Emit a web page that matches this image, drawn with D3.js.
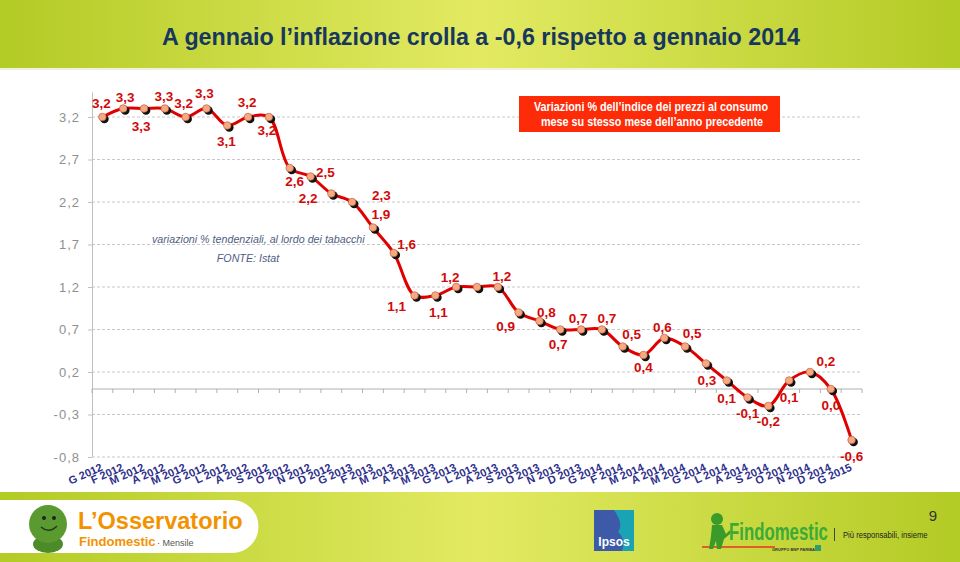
<!DOCTYPE html>
<html><head><meta charset="utf-8">
<script src="https://cdn.jsdelivr.net/npm/d3@7/dist/d3.min.js"></script>
<style>body{margin:0;background:#fff;}svg{display:block;font-family:"Liberation Sans",Arial,sans-serif;}</style>
</head><body>
<svg id="c" width="960" height="562"></svg>
<script>
const categories = [
"G 2012","F 2012","M 2012","A 2012","M 2012","G 2012","L 2012","A 2012","S 2012","O 2012","N 2012","D 2012",
"G 2013","F 2013","M 2013","A 2013","M 2013","G 2013","L 2013","A 2013","S 2013","O 2013","N 2013","D 2013",
"G 2014","F 2014","M 2014","A 2014","M 2014","G 2014","L 2014","A 2014","S 2014","O 2014","N 2014","D 2014",
"G 2015"];
const inflation = [3.2,3.3,3.3,3.3,3.2,3.3,3.1,3.2,3.2,2.6,2.5,2.3,
2.2,1.9,1.6,1.1,1.1,1.2,1.2,1.2,0.9,0.8,0.7,0.7,
0.7,0.5,0.4,0.6,0.5,0.3,0.1,-0.1,-0.2,0.1,0.2,0.0,-0.6];
const yTicks = [3.2,2.7,2.2,1.7,1.2,0.7,0.2,-0.3,-0.8];
// label placement (style): [dx, dy] relative to point, null = no label
const labelOffsets = [[-1,-14],[2,-12],[-3,17],[-1,-13],[-2,-14],[-2,-16],[-1,15],[-1,-15],[-2,13],[5,13],[15,-5],[50,1],
[-44,-4],[8,-14],[13,-9],[-18,10],[3,16],[-6,-10],null,[4,-11],[-13,13],[7,-9],[-2,14],[-3,-12],
[5,-12],[9,-13],[0,12],[-2,-11],[7,-14],[1,16],[0,17],[0,15],[0,15],[0,16],[16,-11],[0,16],[0,16]];

const svg = d3.select("#c");
const defs = svg.append("defs");
const hg = defs.append("linearGradient").attr("id","band").attr("x1","0").attr("x2","1");
hg.append("stop").attr("offset","0").attr("stop-color","#b3cb25");
hg.append("stop").attr("offset","0.5").attr("stop-color","#e3ea62");
hg.append("stop").attr("offset","1").attr("stop-color","#b3cb25");

// header band
svg.append("rect").attr("x",0).attr("y",0).attr("width",960).attr("height",68).attr("fill","url(#band)");
svg.append("rect").attr("x",0).attr("y",68).attr("width",960).attr("height",2).attr("fill","#eef0e0");
svg.append("text").attr("x",481).attr("y",45).attr("text-anchor","middle")
  .attr("font-size",23).attr("font-weight","bold").attr("fill","#17375e").attr("textLength",638).attr("lengthAdjust","spacingAndGlyphs")
  .text("A gennaio l\u2019inflazione crolla a -0,6 rispetto a gennaio 2014");

const fmt = v => d3.format(".1f")(v).replace(".",",").replace("\u2212","-");

const x = d3.scaleBand().domain(d3.range(categories.length)).range([92,862]);
const y = d3.scaleLinear().domain([-0.8,3.2]).range([457,117]);
const cx = i => x(i) + x.bandwidth()/2;

// gridlines
svg.append("g").selectAll("line").data(yTicks).join("line")
  .attr("x1",92).attr("x2",862).attr("y1",d=>y(d)).attr("y2",d=>y(d))
  .attr("stroke","#c8c8c8").attr("stroke-dasharray","3,2").attr("stroke-width",1);
// y axis
const yAxis = d3.axisLeft(y).tickValues(yTicks).tickFormat(fmt).tickSize(4).tickPadding(8);
const ya = svg.append("g").attr("transform","translate(92,0)").call(yAxis);
ya.select(".domain").remove();
ya.selectAll(".tick line").attr("stroke","#c0c0c0");
ya.selectAll("text").attr("font-size",13).attr("fill","#8f8f8f").attr("font-family","Liberation Sans, Arial, sans-serif").attr("letter-spacing","1");
svg.append("line").attr("x1",92.5).attr("x2",92.5).attr("y1",y(3.49)).attr("y2",y(-0.8)).attr("stroke","#c0c0c0");

// zero axis with category ticks
svg.append("line").attr("x1",92).attr("x2",862).attr("y1",y(0)).attr("y2",y(0)).attr("stroke","#b0b0b0");
svg.append("g").selectAll("line").data(d3.range(categories.length+1)).join("line")
  .attr("x1",i=>i<categories.length?x(i):862).attr("x2",i=>i<categories.length?x(i):862)
  .attr("y1",y(0)).attr("y2",y(0)+4).attr("stroke","#b0b0b0");

// category labels rotated
svg.append("g").selectAll("text").data(categories).join("text")
  .attr("transform",(d,i)=>`translate(${cx(i)+1},${470}) rotate(-24)`)
  .attr("text-anchor","end").attr("font-size",11).attr("font-weight","bold").attr("fill","#2e2f8c")
  .text(d=>d);

// legend box
svg.append("rect").attr("x",519).attr("y",96).attr("width",261).attr("height",36).attr("fill","#fe2b08");
svg.append("text").attr("x",651).attr("y",110.5).attr("text-anchor","middle").attr("font-size",12).attr("font-weight","bold").attr("fill","#fff")
  .attr("textLength",234).attr("lengthAdjust","spacingAndGlyphs")
  .text("Variazioni % dell\u2019indice dei prezzi al consumo");
svg.append("text").attr("x",652).attr("y",125.5).attr("text-anchor","middle").attr("font-size",12).attr("font-weight","bold").attr("fill","#fff")
  .attr("textLength",222).attr("lengthAdjust","spacingAndGlyphs")
  .text("mese su stesso mese dell\u2019anno precedente");

// annotation
svg.append("text").attr("x",152).attr("y",243).attr("font-size",10.7).attr("font-style","italic").attr("fill","#4f5d82")
  .text("variazioni % tendenziali, al lordo dei tabacchi");
svg.append("text").attr("x",248).attr("y",262).attr("text-anchor","middle").attr("font-size",10.7).attr("font-style","italic").attr("fill","#4f5d82")
  .text("FONTE: Istat");

// line
const line = d3.line().x((d,i)=>cx(i)).y(d=>y(d)).curve(d3.curveCatmullRom.alpha(0.5));
svg.append("path").datum(inflation).attr("d",line).attr("fill","none").attr("stroke","#e00000").attr("stroke-width",3);

// markers with shadow
svg.append("g").selectAll("circle").data(inflation).join("circle")
  .attr("cx",(d,i)=>cx(i)+2).attr("cy",d=>y(d)+2).attr("r",4.3).attr("fill","#111");
svg.append("g").selectAll("circle").data(inflation).join("circle")
  .attr("cx",(d,i)=>cx(i)).attr("cy",d=>y(d)).attr("r",3.8).attr("fill","#f7a984").attr("stroke","#c0603a").attr("stroke-width",0.7);

// value labels
svg.append("g").selectAll("text").data(inflation.map((v,i)=>({v,i,o:labelOffsets[i]})).filter(d=>d.o)).join("text")
  .attr("x",d=>cx(d.i)+d.o[0]).attr("y",d=>y(d.v)+d.o[1]+5)
  .attr("text-anchor","middle").attr("font-size",13.5).attr("font-weight","bold").attr("fill","#d10a0a")
  .text(d=>fmt(d.v));

// footer
svg.append("rect").attr("x",0).attr("y",492).attr("width",960).attr("height",70).attr("fill","url(#band)");
svg.append("path").attr("d","M0,500 H232 A26.5,26.5 0 0 1 232,553 H0 Z").attr("fill","#fff");
// mascot
svg.append("ellipse").attr("cx",48).attr("cy",544).attr("rx",15).attr("ry",9).attr("fill","#4d8a2a");
svg.append("circle").attr("cx",48).attr("cy",524).attr("r",19).attr("fill","#5a9a30");
svg.append("circle").attr("cx",44).attr("cy",518).attr("r",2).attr("fill","#222");
svg.append("circle").attr("cx",54).attr("cy",518).attr("r",2).attr("fill","#222");
svg.append("path").attr("d","M41,527 Q49,534 57,526").attr("fill","none").attr("stroke","#1f3d10").attr("stroke-width",1.5);
svg.append("text").attr("x",78).attr("y",529).attr("font-size",23.5).attr("font-weight","bold").attr("fill","#f39200").text("L\u2019Osservatorio");
svg.append("text").attr("x",79).attr("y",546).attr("font-size",13).attr("font-weight","bold").attr("fill","#f39200").text("Findomestic");
svg.append("text").attr("x",157).attr("y",546).attr("font-size",9).attr("fill","#555").text("\u00b7 Mensile");
// ipsos
svg.append("rect").attr("x",594).attr("y",510).attr("width",40).attr("height",41).attr("fill","#3c5aa8");
svg.append("path").attr("d","M614,510 H634 V551 H622 Q626,538 618,532 Q624,524 614,510 Z").attr("fill","#19a3b5");
svg.append("text").attr("x",614).attr("y",546).attr("text-anchor","middle").attr("font-size",12).attr("font-weight","bold").attr("fill","#fff").text("Ipsos");
// findomestic
svg.append("line").attr("x1",702).attr("x2",775).attr("y1",547).attr("y2",547).attr("stroke","#e8351e").attr("stroke-width",1.5);
svg.append("circle").attr("cx",717).attr("cy",519).attr("r",6).attr("fill","#3a9a2a");
svg.append("path").attr("d","M712,525 L722,525 L726,534 L730,530 L731,533 L724,539 L721,549 L717,549 L716,541 L713,549 L709,549 L711,536 Z").attr("fill","#3a9a2a");
svg.append("text").attr("transform","translate(729,540) scale(0.7,1)").attr("font-size",24).attr("font-weight","bold").attr("fill","#3caa36")
  .text("Findomestic");
svg.append("text").attr("x",772).attr("y",551).attr("font-size",4).attr("font-weight","bold").attr("fill","#333").text("GRUPPO BNP PARIBAS");
svg.append("rect").attr("x",815).attr("y",545).attr("width",6).attr("height",6).attr("fill","#2aa06a");
svg.append("line").attr("x1",834.5).attr("x2",834.5).attr("y1",528).attr("y2",541).attr("stroke","#444");
svg.append("text").attr("transform","translate(843,538) scale(0.85,1)").attr("font-size",9).attr("fill","#222")
  .text("Più responsabili, insieme");
svg.append("text").attr("x",933).attr("y",521).attr("text-anchor","middle").attr("font-size",15).attr("fill","#333").text("9");
</script>
</body></html>
